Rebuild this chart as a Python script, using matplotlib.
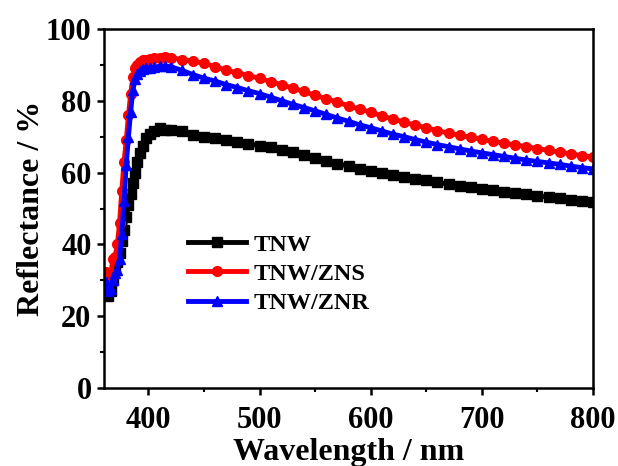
import matplotlib
matplotlib.use("Agg")
import matplotlib.pyplot as plt
from matplotlib.ticker import MultipleLocator

wl = [362, 364, 366, 368, 370, 372, 374, 376, 378, 380, 382, 384, 386, 388, 390, 392,
      395, 398, 401, 405, 410, 415, 420, 430, 440, 450, 460, 470, 480, 490, 500,
      510, 520, 530, 540, 550, 560, 570, 580, 590, 600, 610, 620, 630, 640, 650,
      660, 670, 680, 690, 700, 710, 720, 730, 740, 750, 760, 770, 780, 790, 800]

tnw = [27, 25.5, 27, 30, 33, 35, 37.5, 41, 44, 47.5, 51, 54, 57, 60, 63, 65.5,
       67.5, 69.5, 70.8, 71.5, 72.5, 72, 71.8, 71.5, 70.5, 70, 69.5, 69, 68.5, 68, 67.5,
       67, 66.3, 65.6, 64.8, 64, 63.3, 62.5, 61.8, 61, 60.4, 59.8, 59.2, 58.7, 58.2, 57.8,
       57.3, 56.8, 56.3, 55.9, 55.5, 55.1, 54.7, 54.3, 53.9, 53.5, 53.2, 52.8, 52.4, 52.1, 51.8]

tnw_zns = [32.3, 29.5, 31, 36, 36.5, 40, 46, 55, 63, 69, 76, 82, 86.5, 89, 90, 90.8,
           91.3, 91.5, 91.7, 91.8, 92, 92.2, 92, 91.5, 91, 90.5, 89.5, 88.5, 87.8, 87, 86.3,
           85.3, 84.5, 83.5, 82.6, 81.5, 80.6, 79.6, 78.6, 77.7, 76.8, 75.8, 74.9, 74.1, 73.2, 72.5,
           71.7, 71, 70.4, 69.8, 69.3, 68.7, 68.2, 67.7, 67.2, 66.7, 66.2, 65.7, 65.2, 64.7, 64.3]

tnw_znr = [29.5, 27, 27.5, 30, 32, 33, 36, 43, 52, 62, 70, 77, 83, 86, 87.5, 88.3,
           88.8, 89, 89.2, 89.4, 89.6, 89.7, 89.5, 88.5, 87.3, 86.3, 85.5, 84.5, 83.7, 82.8, 82,
           81, 80, 79, 78.1, 77.2, 76.2, 75.2, 74.3, 73.3, 72.5, 71.6, 70.7, 70, 69.2, 68.5,
           67.8, 67.2, 66.6, 66, 65.5, 65, 64.5, 64, 63.5, 63.1, 62.7, 62.3, 61.8, 61.4, 61]

labels = ["TNW", "TNW/ZNS", "TNW/ZNR"]
xticks = [400, 500, 600, 700, 800]
yticks = [0, 20, 40, 60, 80, 100]

plt.rcParams['font.family'] = ['Liberation Serif', 'DejaVu Serif']
plt.rcParams['font.weight'] = 'bold'

fig = plt.figure(figsize=(6.18, 4.66), dpi=100)
ax = fig.add_axes([104/618, 78/466, 489/618, 359/466])

ax.plot(wl, tnw, color='black', lw=3.5, marker='s', ms=7, label=labels[0])
ax.plot(wl, tnw_zns, color='red', lw=3.5, marker='o', ms=7, label=labels[1])
ax.plot(wl, tnw_znr, color='blue', lw=3.5, marker='^', ms=7, label=labels[2])

ax.set_xlim(360, 800)
ax.set_ylim(0, 100)
ax.set_xticks(xticks)
ax.set_yticks(yticks)
ax.xaxis.set_minor_locator(MultipleLocator(50))
ax.yaxis.set_minor_locator(MultipleLocator(10))
ax.tick_params(which='major', direction='out', length=5, width=1.8, labelsize=22,
               top=False, right=False)
ax.tick_params(axis='y', which='major', pad=4)
ax.tick_params(axis='x', which='major', pad=8)
ax.tick_params(which='minor', direction='out', length=3, width=1.5, top=False, right=False)
for lab in ax.get_xticklabels() + ax.get_yticklabels():
    lab.set_fontweight('bold')
for s in ax.spines.values():
    s.set_linewidth(1.8)

ax.set_xlabel("Wavelength / nm", fontsize=23, fontweight='bold', labelpad=2)
ax.set_ylabel("Reflectance / %", fontsize=23, fontweight='bold', labelpad=0)

leg = ax.legend(loc='upper left', bbox_to_anchor=(0.172, 0.43), frameon=False,
                fontsize=17.5, handlelength=2.4, handletextpad=0.3, labelspacing=0.3,
                borderpad=0, borderaxespad=0)
for t in leg.get_texts():
    t.set_fontweight('bold')

fig.savefig("out.png", dpi=100)
